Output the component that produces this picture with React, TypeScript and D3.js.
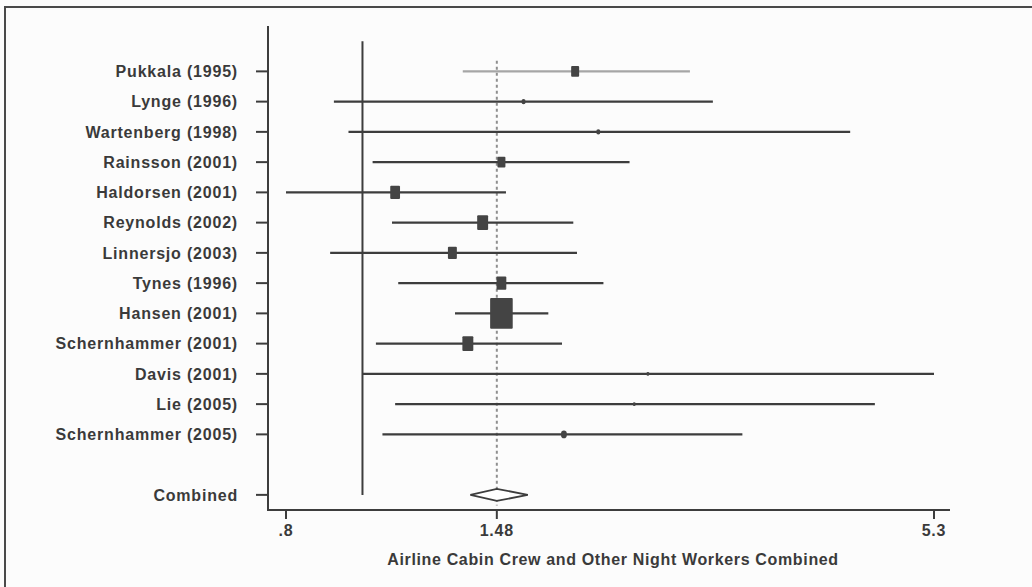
import React from "react";
import * as d3 from "d3";

const studies = [
  "Pukkala (1995)",
  "Lynge (1996)",
  "Wartenberg (1998)",
  "Rainsson (2001)",
  "Haldorsen (2001)",
  "Reynolds (2002)",
  "Linnersjo (2003)",
  "Tynes (1996)",
  "Hansen (2001)",
  "Schernhammer (2001)",
  "Davis (2001)",
  "Lie (2005)",
  "Schernhammer (2005)",
];
const estimates = [1.86, 1.6, 1.99, 1.5, 1.1, 1.42, 1.3, 1.5, 1.5, 1.36, 2.3, 2.21, 1.8];
const lower = [1.34, 0.92, 0.96, 1.03, 0.8, 1.09, 0.91, 1.11, 1.31, 1.04, 1.0, 1.1, 1.06];
const upper = [2.6, 2.78, 4.15, 2.18, 1.52, 1.85, 1.87, 2.02, 1.72, 1.79, 5.3, 4.46, 3.03];
const weights = [4, 1, 1, 4, 6, 7.5, 5, 6, 32, 7.5, 0.5, 0.5, 2];

const combinedLabel = "Combined";
const combinedEstimate = 1.48;
const combinedLower = 1.37;
const combinedUpper = 1.62;

const xTicks = [0.8, 1.48, 5.3];
const xTickLabels = [".8", "1.48", "5.3"];
const xTitle = "Airline Cabin Crew and Other Night Workers Combined";

const W = 1032;
const H = 587;
const FONT = "'Liberation Sans', Arial, Helvetica, sans-serif";
const DARK = "#3d3d3d";

export default function App() {
  const x = d3.scaleLog().domain([0.8, 5.3]).range([286, 934]);
  const y = d3.scaleLinear().domain([-1.5, 14.5]).range([26, 510]);
  const combinedRow = 14;
  const axisLeft = 268;
  const axisBottom = y(14.5);
  const axisRight = x(5.3) + 16;
  const sizeScale = d3.scaleSqrt().domain([0, 32]).range([0, 22.6]);

  const labelStyle = {
    fontFamily: FONT,
    fontSize: 16,
    fontWeight: 700,
    fill: "#3a3a3a",
    letterSpacing: 0.8,
  } as React.CSSProperties;

  return (
    <svg
      width={W}
      height={H}
      style={{ position: "absolute", left: 0, top: 0, background: "#fcfcfc" }}
    >
      {/* outer frame */}
      <rect x={5} y={7} width={W + 20} height={H + 20} fill="none" stroke="#4a4a4a" strokeWidth={2} />

      {/* null line at 1 */}
      <line x1={x(1)} x2={x(1)} y1={y(-1)} y2={y(combinedRow)} stroke={DARK} strokeWidth={2} />

      {/* dashed combined line */}
      <line
        x1={x(combinedEstimate)}
        x2={x(combinedEstimate)}
        y1={y(-0.35)}
        y2={y(14.35)}
        stroke="#8f8f8f"
        strokeWidth={2}
        strokeDasharray="3,3"
      />

      {/* CI lines and markers */}
      {studies.map((s, i) => {
        const w = sizeScale(weights[i]);
        const h = w * 1.37;
        return (
          <g key={s}>
            <line
              x1={x(lower[i])}
              x2={x(upper[i])}
              y1={y(i)}
              y2={y(i)}
              stroke={i === 0 ? "#a6a6a6" : DARK}
              strokeWidth={2.2}
            />
            <rect
              x={x(estimates[i]) - w / 2}
              y={y(i) - h / 2}
              width={w}
              height={h}
              rx={w > 6 ? 1 : w / 2}
              fill="#444"
            />
          </g>
        );
      })}

      {/* combined diamond */}
      <path
        d={`M${x(combinedLower)},${y(combinedRow)} L${x(combinedEstimate)},${y(combinedRow) - 6} L${x(combinedUpper)},${y(combinedRow)} L${x(combinedEstimate)},${y(combinedRow) + 6} Z`}
        fill="#fff"
        stroke={DARK}
        strokeWidth={1.8}
      />

      {/* y axis */}
      <line x1={axisLeft} x2={axisLeft} y1={26} y2={axisBottom + 1} stroke={DARK} strokeWidth={2} />
      {[...studies, combinedLabel].map((s, i) => {
        const row = i < studies.length ? i : combinedRow;
        return (
          <g key={"yl" + s}>
            <line x1={axisLeft - 12} x2={axisLeft} y1={y(row)} y2={y(row)} stroke={DARK} strokeWidth={2} />
            <text x={238} y={y(row)} dy="0.36em" textAnchor="end" style={labelStyle}>
              {s}
            </text>
          </g>
        );
      })}

      {/* x axis */}
      <line x1={axisLeft - 1} x2={axisRight} y1={axisBottom} y2={axisBottom} stroke={DARK} strokeWidth={2} />
      {xTicks.map((t, i) => (
        <g key={"xt" + t}>
          <line x1={x(t)} x2={x(t)} y1={axisBottom} y2={axisBottom + 9} stroke={DARK} strokeWidth={2} />
          <text x={x(t)} y={530} dy="0.36em" textAnchor="middle" style={labelStyle}>
            {xTickLabels[i]}
          </text>
        </g>
      ))}
      <text x={613} y={559} dy="0.36em" textAnchor="middle" style={{ ...labelStyle, letterSpacing: 0.65 }}>
        {xTitle}
      </text>
    </svg>
  );
}
